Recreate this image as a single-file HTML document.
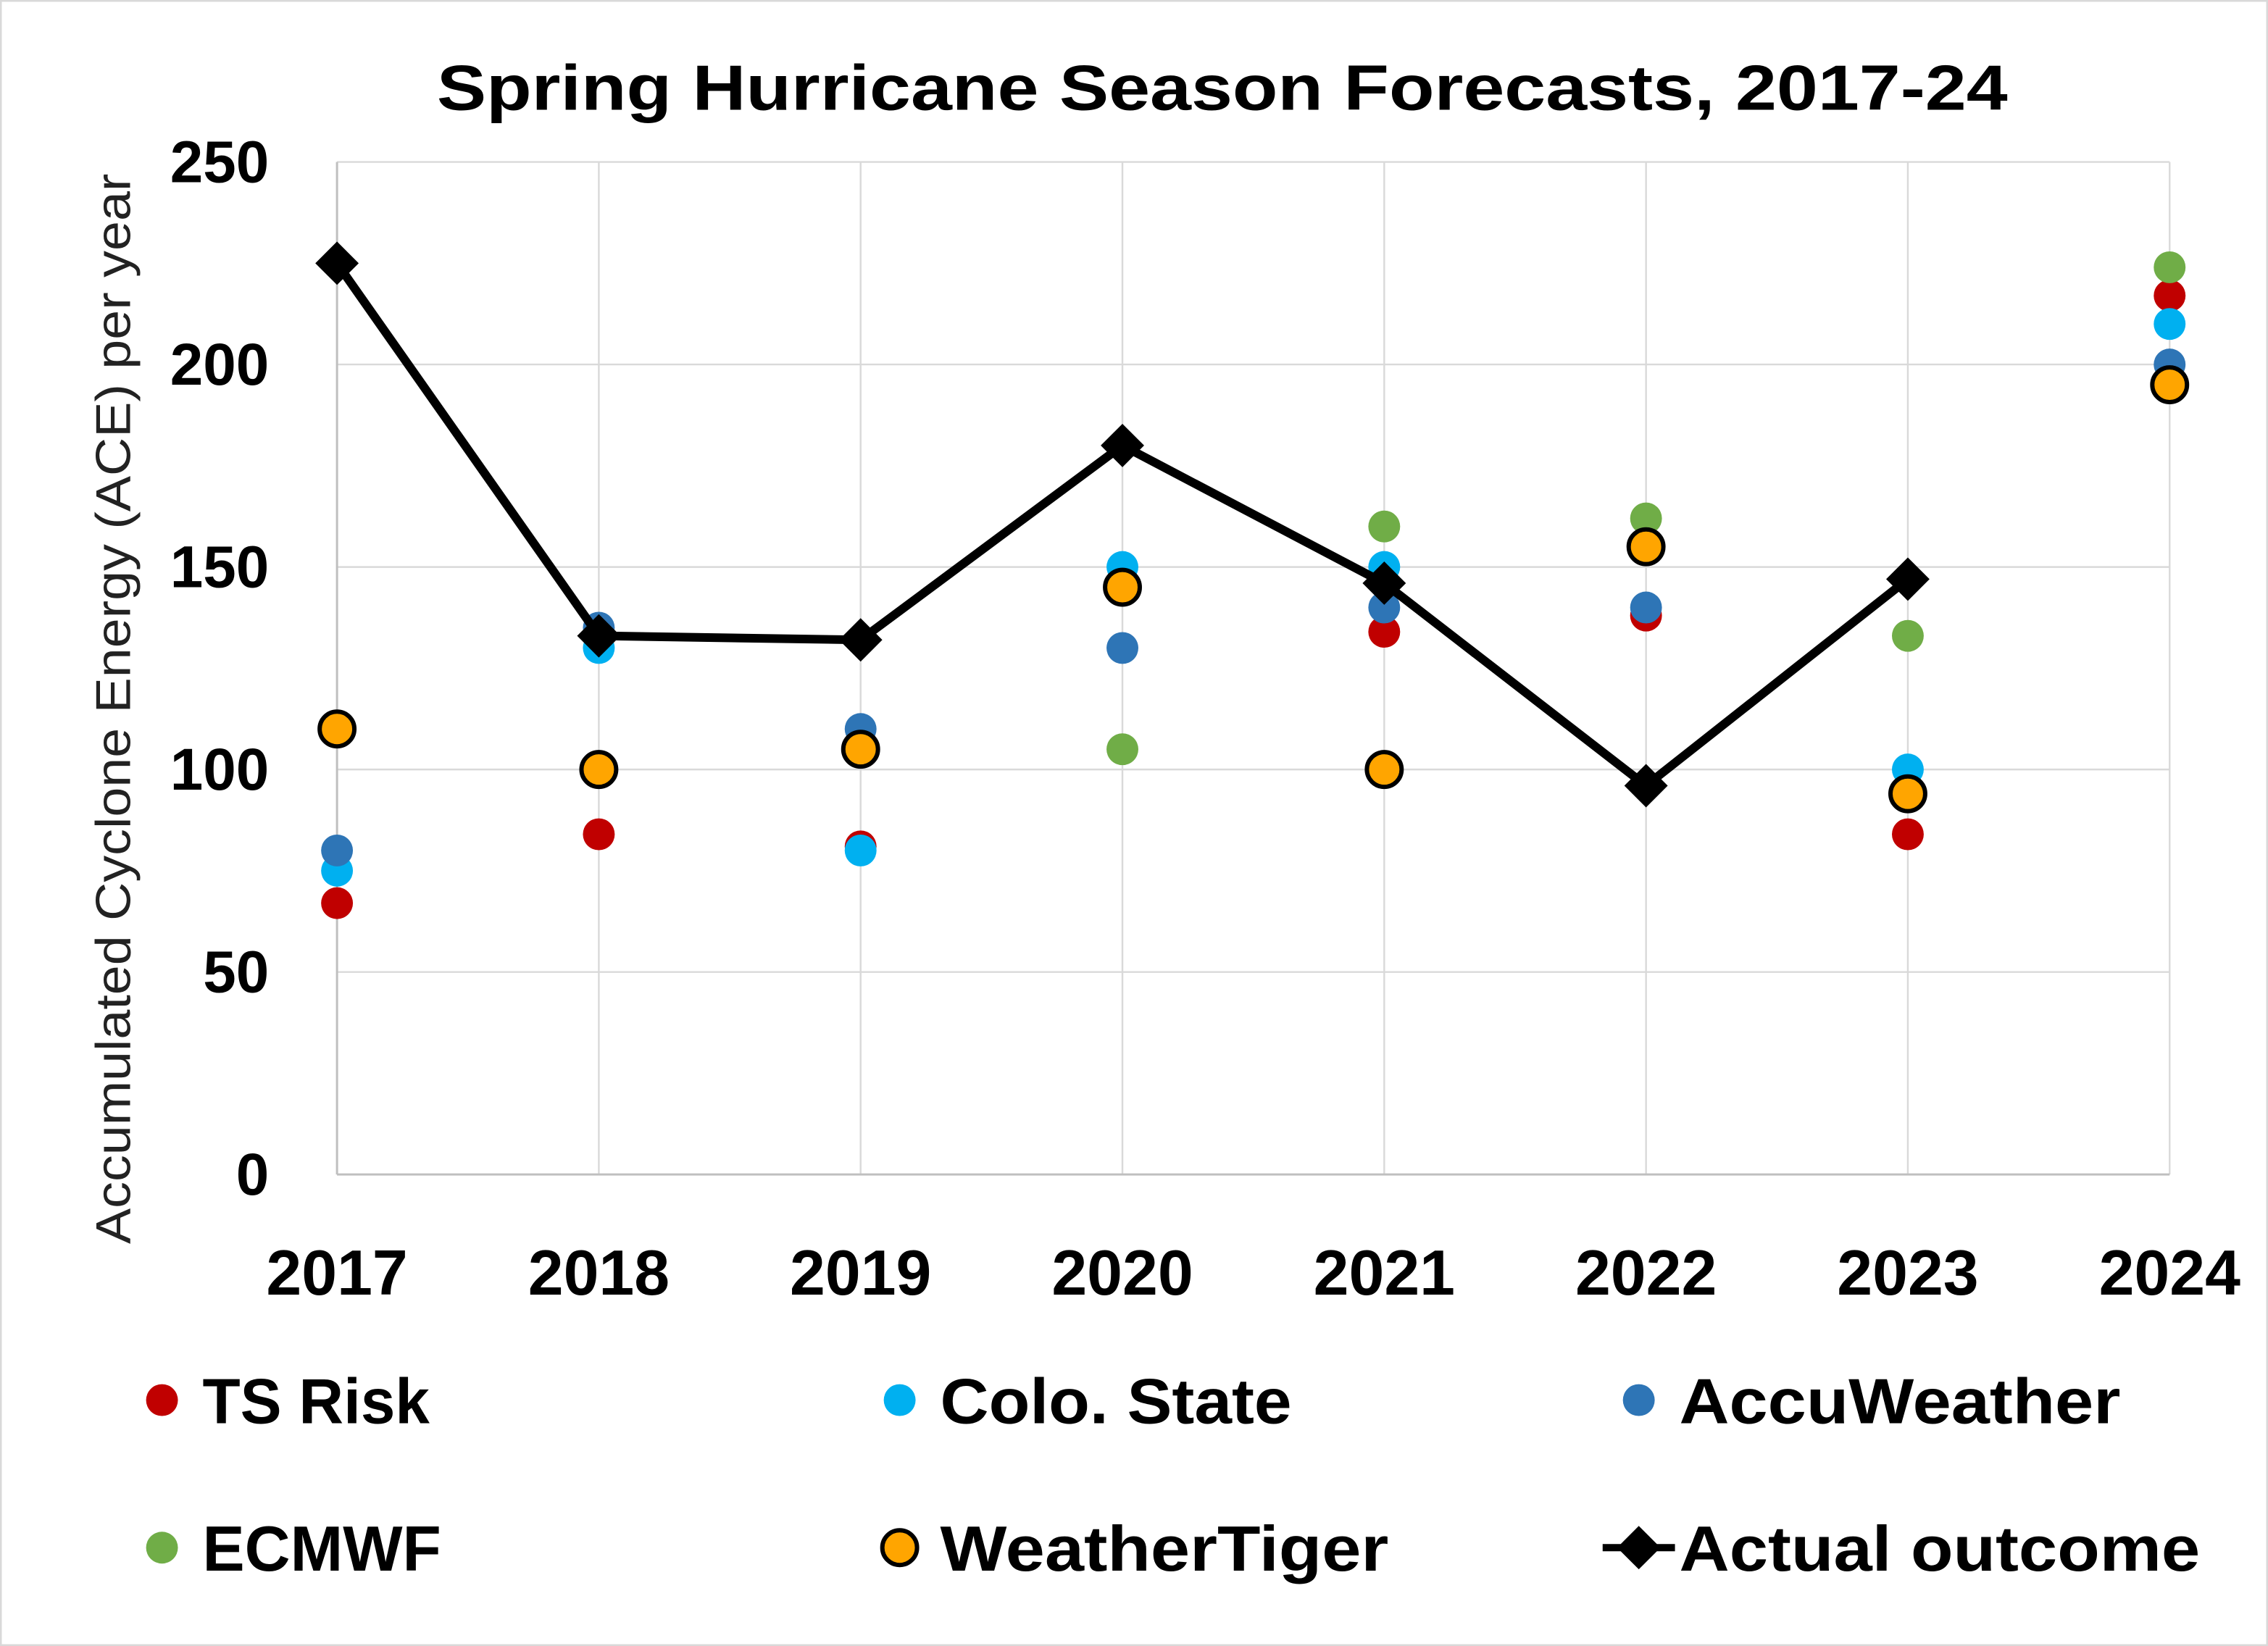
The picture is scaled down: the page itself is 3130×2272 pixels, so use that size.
<!DOCTYPE html>
<html><head><meta charset="utf-8"><style>
html,body{margin:0;padding:0;background:#fff}
svg{display:block}
text{font-family:"Liberation Sans",sans-serif}
</style></head><body>
<svg id="chart" width="3130" height="2272" viewBox="0 0 1568 1138" preserveAspectRatio="none" xmlns="http://www.w3.org/2000/svg">
<rect x="0.5" y="0.5" width="1567" height="1137" fill="#fff" stroke="#d9d9d9" stroke-width="1.5"/>
<text x="302" y="76" font-size="44" font-weight="bold" textLength="1086" lengthAdjust="spacingAndGlyphs">Spring Hurricane Season Forecasts, 2017-24</text>
<text transform="translate(90,860) rotate(-90)" font-size="34" fill="#222" textLength="740" lengthAdjust="spacingAndGlyphs">Accumulated Cyclone Energy (ACE) per year</text>
<g id="grid"></g>
<g id="axes"></g>
<g id="marks"></g>
<g id="legend"></g>
</svg>
<script>
const years = ['2017','2018','2019','2020','2021','2022','2023','2024'];
const yTicks = [0,50,100,150,200,250];
const tsRisk = [67,84,81,null,134,138,84,217];
const coloState = [75,130,80,150,150,null,100,210];
const accuWeather = [80,135,110,130,140,140,null,200];
const ecmwf = [null,null,null,105,160,162,133,224];
const weatherTiger = [110,100,105,145,100,155,94,195];
const actual = [225,133,132,180,146,96,147,null];

const NS='http://www.w3.org/2000/svg';
const X0=233,X1=1500,Y0=812,Y1=112,YMAX=250;
const xs=i=>X0+(X1-X0)*i/(years.length-1);
const ys=v=>Y0-(Y0-Y1)*v/YMAX;
function mk(tag,attrs,parent){const e=document.createElementNS(NS,tag);for(const k in attrs)e.setAttribute(k,attrs[k]);parent.appendChild(e);return e;}
const grid=document.getElementById('grid'),axes=document.getElementById('axes'),marks=document.getElementById('marks'),legend=document.getElementById('legend');

yTicks.forEach(t=>{
  if(t>0){const l=mk('line',{x1:X0,x2:X1,y1:ys(t),y2:ys(t),stroke:'#d9d9d9','stroke-width':1.2},grid);
  
  }
  const tx=mk('text',{x:186,y:ys(t)+14,'text-anchor':'end','font-size':41,'font-weight':'bold'},axes);
  tx.textContent=t;
  
  
});
years.forEach((y,i)=>{
  const l=mk('line',{x1:xs(i),x2:xs(i),y1:Y1,y2:Y0,stroke:'#d9d9d9','stroke-width':1.2},grid);
  
  
  const tx=mk('text',{x:xs(i),y:895,'text-anchor':'middle','font-size':44,'font-weight':'bold'},axes);
  tx.textContent=y;
  
  
});
const xa=mk('line',{x1:X0,x2:X1,y1:Y0,y2:Y0,stroke:'#bfbfbf','stroke-width':1.5},axes);


const ya=mk('line',{x1:X0,x2:X0,y1:Y1,y2:Y0,stroke:'#bfbfbf','stroke-width':1.5},axes);



function dots(arr,color,name){
  arr.forEach((v,i)=>{if(v==null)return;
    const c=mk('circle',{cx:xs(i),cy:ys(v),r:11,fill:color},marks);
    
    });
}
dots(tsRisk,'#C00000','ts-risk');
dots(coloState,'#00B0F0','colo-state');
dots(accuWeather,'#2E75B6','accuweather');
dots(ecmwf,'#70AD47','ecmwf');
let d='';actual.forEach((v,i)=>{if(v==null)return;d+=(d?'L':'M')+xs(i)+' '+ys(v);});
const pl=mk('path',{d:d,fill:'none',stroke:'#000','stroke-width':6,'stroke-linejoin':'round'},marks);


weatherTiger.forEach((v,i)=>{
  const c=mk('circle',{cx:xs(i),cy:ys(v),r:12,fill:'#FFA500',stroke:'#000','stroke-width':3},marks);
  
  
});
function diamond(x,y,p){return mk('path',{d:`M${x} ${y-15}L${x+15} ${y}L${x} ${y+15}L${x-15} ${y}Z`,fill:'#000'},p);}
actual.forEach((v,i)=>{if(v==null)return;
  const dm=diamond(xs(i),ys(v),marks);
  
  });

const entries=[
 ['TS Risk','#C00000',112,968,'dot',157],['Colo. State','#00B0F0',622,968,'dot',243],['AccuWeather','#2E75B6',1133,968,'dot',305],
 ['ECMWF','#70AD47',112,1070,'dot',165],['WeatherTiger','#FFA500',622,1070,'ring',310],['Actual outcome','#000',1133,1070,'line',360]];
entries.forEach(e=>{
  const g=mk('g',{},legend);
  
  
  if(e[4]=='dot')mk('circle',{cx:e[2],cy:e[3],r:11,fill:e[1]},g);
  else if(e[4]=='ring')mk('circle',{cx:e[2],cy:e[3],r:12,fill:e[1],stroke:'#000','stroke-width':3},g);
  else{mk('line',{x1:e[2]-25,x2:e[2]+25,y1:e[3],y2:e[3],stroke:'#000','stroke-width':5},g);diamond(e[2],e[3],g);}
  const t=mk('text',{x:e[2]+28,y:e[3]+16,'font-size':44,'font-weight':'bold',textLength:e[5],lengthAdjust:'spacingAndGlyphs'},g);
  t.textContent=e[0];
});
</script>
</body></html>
